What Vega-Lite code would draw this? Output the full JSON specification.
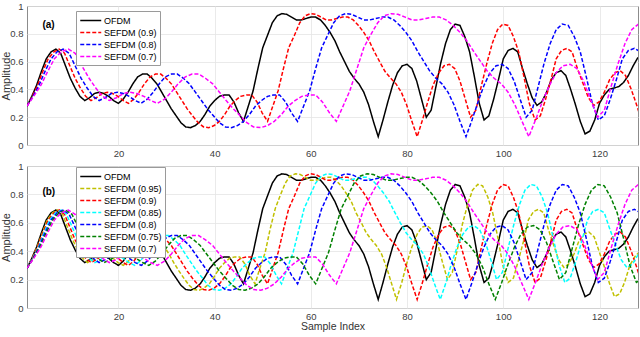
{
"$schema":"https://vega.github.io/schema/vega-lite/v6.json",
"padding":{"left":0,"top":0,"right":3,"bottom":0},
"background":"white",
"config":{
 "font":"Liberation Sans",
 "view":{"stroke":"#8c8c8c","strokeWidth":1},
 "axis":{"grid":true,"gridColor":"#e4e4e4","gridWidth":0.8,"domain":false,"ticks":false,"labelOverlap":false,"labelColor":"#404040","labelFontSize":9.5,"labelPadding":4,"titleFontSize":11,"titleFontWeight":"normal","titleColor":"#333333"},
 "axisX":{"labelPadding":3},
 "legend":{"title":null,"orient":"none","symbolType":"M-1,0H3","symbolSize":110,"symbolStrokeWidth":1.6,"labelFontSize":9,"labelColor":"#000000","labelOffset":12,"fillColor":"white","strokeColor":"#9a9a9a","padding":3,"rowPadding":0}
},
"data":{"values":[
{"s":"O","x":1,"y":0.28},{"s":"O","x":2,"y":0.35},{"s":"O","x":3,"y":0.43},{"s":"O","x":4,"y":0.53},{"s":"O","x":5,"y":0.62},{"s":"O","x":6,"y":0.67},{"s":"O","x":7,"y":0.69},{"s":"O","x":8,"y":0.66},{"s":"O","x":9,"y":0.57},{"s":"O","x":10,"y":0.48},
{"s":"O","x":11,"y":0.41},{"s":"O","x":12,"y":0.35},{"s":"O","x":13,"y":0.32},{"s":"O","x":14,"y":0.34},{"s":"O","x":15,"y":0.37},{"s":"O","x":16,"y":0.38},{"s":"O","x":17,"y":0.37},{"s":"O","x":18,"y":0.35},{"s":"O","x":19,"y":0.32},{"s":"O","x":20,"y":0.3},
{"s":"O","x":21,"y":0.33},{"s":"O","x":22,"y":0.38},{"s":"O","x":23,"y":0.44},{"s":"O","x":24,"y":0.49},{"s":"O","x":25,"y":0.51},{"s":"O","x":26,"y":0.51},{"s":"O","x":27,"y":0.48},{"s":"O","x":28,"y":0.44},{"s":"O","x":29,"y":0.38},{"s":"O","x":30,"y":0.32},
{"s":"O","x":31,"y":0.26},{"s":"O","x":32,"y":0.21},{"s":"O","x":33,"y":0.16},{"s":"O","x":34,"y":0.13},{"s":"O","x":35,"y":0.125},{"s":"O","x":36,"y":0.14},{"s":"O","x":37,"y":0.17},{"s":"O","x":38,"y":0.22},{"s":"O","x":39,"y":0.28},{"s":"O","x":40,"y":0.32},
{"s":"O","x":41,"y":0.35},{"s":"O","x":42,"y":0.36},{"s":"O","x":43,"y":0.36},{"s":"O","x":44,"y":0.31},{"s":"O","x":45,"y":0.23},{"s":"O","x":46,"y":0.17},{"s":"O","x":47,"y":0.28},{"s":"O","x":48,"y":0.39},{"s":"O","x":49,"y":0.55},{"s":"O","x":50,"y":0.7},
{"s":"O","x":51,"y":0.79},{"s":"O","x":52,"y":0.88},{"s":"O","x":53,"y":0.93},{"s":"O","x":54,"y":0.945},{"s":"O","x":55,"y":0.94},{"s":"O","x":56,"y":0.92},{"s":"O","x":57,"y":0.9},{"s":"O","x":58,"y":0.9},{"s":"O","x":59,"y":0.91},{"s":"O","x":60,"y":0.92},
{"s":"O","x":61,"y":0.92},{"s":"O","x":62,"y":0.9},{"s":"O","x":63,"y":0.86},{"s":"O","x":64,"y":0.81},{"s":"O","x":65,"y":0.75},{"s":"O","x":66,"y":0.67},{"s":"O","x":67,"y":0.6},{"s":"O","x":68,"y":0.53},{"s":"O","x":69,"y":0.48},{"s":"O","x":70,"y":0.44},
{"s":"O","x":71,"y":0.38},{"s":"O","x":72,"y":0.29},{"s":"O","x":73,"y":0.17},{"s":"O","x":74,"y":0.06},{"s":"O","x":75,"y":0.18},{"s":"O","x":76,"y":0.31},{"s":"O","x":77,"y":0.43},{"s":"O","x":78,"y":0.52},{"s":"O","x":79,"y":0.57},{"s":"O","x":80,"y":0.58},
{"s":"O","x":81,"y":0.55},{"s":"O","x":82,"y":0.46},{"s":"O","x":83,"y":0.33},{"s":"O","x":84,"y":0.2},{"s":"O","x":85,"y":0.25},{"s":"O","x":86,"y":0.42},{"s":"O","x":87,"y":0.59},{"s":"O","x":88,"y":0.73},{"s":"O","x":89,"y":0.83},{"s":"O","x":90,"y":0.87},
{"s":"O","x":91,"y":0.86},{"s":"O","x":92,"y":0.78},{"s":"O","x":93,"y":0.67},{"s":"O","x":94,"y":0.49},{"s":"O","x":95,"y":0.3},{"s":"O","x":96,"y":0.18},{"s":"O","x":97,"y":0.21},{"s":"O","x":98,"y":0.33},{"s":"O","x":99,"y":0.47},{"s":"O","x":100,"y":0.62},
{"s":"O","x":101,"y":0.68},{"s":"O","x":102,"y":0.695},{"s":"O","x":103,"y":0.67},{"s":"O","x":104,"y":0.55},{"s":"O","x":105,"y":0.44},{"s":"O","x":106,"y":0.34},{"s":"O","x":107,"y":0.285},{"s":"O","x":108,"y":0.31},{"s":"O","x":109,"y":0.38},{"s":"O","x":110,"y":0.47},
{"s":"O","x":111,"y":0.52},{"s":"O","x":112,"y":0.535},{"s":"O","x":113,"y":0.5},{"s":"O","x":114,"y":0.4},{"s":"O","x":115,"y":0.29},{"s":"O","x":116,"y":0.17},{"s":"O","x":117,"y":0.08},{"s":"O","x":118,"y":0.1},{"s":"O","x":119,"y":0.18},{"s":"O","x":120,"y":0.3},
{"s":"O","x":121,"y":0.36},{"s":"O","x":122,"y":0.4},{"s":"O","x":123,"y":0.41},{"s":"O","x":124,"y":0.42},{"s":"O","x":125,"y":0.45},{"s":"O","x":126,"y":0.5},{"s":"O","x":127,"y":0.57},{"s":"O","x":128,"y":0.63},

{"s":"95","x":1,"y":0.28},{"s":"95","x":2.1,"y":0.35},{"s":"95","x":3.1,"y":0.43},{"s":"95","x":4.2,"y":0.53},{"s":"95","x":5.2,"y":0.62},{"s":"95","x":6.3,"y":0.67},{"s":"95","x":7.3,"y":0.69},{"s":"95","x":8.4,"y":0.66},{"s":"95","x":9.4,"y":0.57},{"s":"95","x":10.5,"y":0.48},
{"s":"95","x":11.5,"y":0.41},{"s":"95","x":12.6,"y":0.35},{"s":"95","x":13.6,"y":0.32},{"s":"95","x":14.7,"y":0.34},{"s":"95","x":15.7,"y":0.37},{"s":"95","x":16.8,"y":0.38},{"s":"95","x":17.8,"y":0.37},{"s":"95","x":18.9,"y":0.35},{"s":"95","x":19.9,"y":0.32},{"s":"95","x":21,"y":0.3},
{"s":"95","x":22.1,"y":0.33},{"s":"95","x":23.1,"y":0.38},{"s":"95","x":24.2,"y":0.44},{"s":"95","x":25.2,"y":0.49},{"s":"95","x":26.3,"y":0.51},{"s":"95","x":27.3,"y":0.51},{"s":"95","x":28.4,"y":0.48},{"s":"95","x":29.4,"y":0.44},{"s":"95","x":30.5,"y":0.38},{"s":"95","x":31.5,"y":0.32},
{"s":"95","x":32.6,"y":0.26},{"s":"95","x":33.6,"y":0.21},{"s":"95","x":34.7,"y":0.16},{"s":"95","x":35.7,"y":0.13},{"s":"95","x":36.8,"y":0.125},{"s":"95","x":37.8,"y":0.14},{"s":"95","x":38.9,"y":0.17},{"s":"95","x":39.9,"y":0.22},{"s":"95","x":41,"y":0.28},{"s":"95","x":42.1,"y":0.32},
{"s":"95","x":43.1,"y":0.35},{"s":"95","x":44.2,"y":0.36},{"s":"95","x":45.2,"y":0.36},{"s":"95","x":46.3,"y":0.31},{"s":"95","x":47.3,"y":0.23},{"s":"95","x":48.4,"y":0.17},{"s":"95","x":49.4,"y":0.28},{"s":"95","x":50.5,"y":0.39},{"s":"95","x":51.5,"y":0.55},{"s":"95","x":52.6,"y":0.7},
{"s":"95","x":53.6,"y":0.79},{"s":"95","x":54.7,"y":0.88},{"s":"95","x":55.7,"y":0.93},{"s":"95","x":56.8,"y":0.945},{"s":"95","x":57.8,"y":0.94},{"s":"95","x":58.9,"y":0.92},{"s":"95","x":59.9,"y":0.9},{"s":"95","x":61,"y":0.9},{"s":"95","x":62.1,"y":0.91},{"s":"95","x":63.1,"y":0.92},
{"s":"95","x":64.2,"y":0.92},{"s":"95","x":65.2,"y":0.9},{"s":"95","x":66.3,"y":0.86},{"s":"95","x":67.3,"y":0.81},{"s":"95","x":68.4,"y":0.75},{"s":"95","x":69.4,"y":0.67},{"s":"95","x":70.5,"y":0.6},{"s":"95","x":71.5,"y":0.53},{"s":"95","x":72.6,"y":0.48},{"s":"95","x":73.6,"y":0.44},
{"s":"95","x":74.7,"y":0.38},{"s":"95","x":75.7,"y":0.29},{"s":"95","x":76.8,"y":0.17},{"s":"95","x":77.8,"y":0.06},{"s":"95","x":78.9,"y":0.18},{"s":"95","x":79.9,"y":0.31},{"s":"95","x":81,"y":0.43},{"s":"95","x":82.1,"y":0.52},{"s":"95","x":83.1,"y":0.57},{"s":"95","x":84.2,"y":0.58},
{"s":"95","x":85.2,"y":0.55},{"s":"95","x":86.3,"y":0.46},{"s":"95","x":87.3,"y":0.33},{"s":"95","x":88.4,"y":0.2},{"s":"95","x":89.4,"y":0.25},{"s":"95","x":90.5,"y":0.42},{"s":"95","x":91.5,"y":0.59},{"s":"95","x":92.6,"y":0.73},{"s":"95","x":93.6,"y":0.83},{"s":"95","x":94.7,"y":0.87},
{"s":"95","x":95.7,"y":0.86},{"s":"95","x":96.8,"y":0.78},{"s":"95","x":97.8,"y":0.67},{"s":"95","x":98.9,"y":0.49},{"s":"95","x":99.9,"y":0.3},{"s":"95","x":101,"y":0.18},{"s":"95","x":102.1,"y":0.21},{"s":"95","x":103.1,"y":0.33},{"s":"95","x":104.2,"y":0.47},{"s":"95","x":105.2,"y":0.62},
{"s":"95","x":106.3,"y":0.68},{"s":"95","x":107.3,"y":0.695},{"s":"95","x":108.4,"y":0.67},{"s":"95","x":109.4,"y":0.55},{"s":"95","x":110.5,"y":0.44},{"s":"95","x":111.5,"y":0.34},{"s":"95","x":112.6,"y":0.285},{"s":"95","x":113.6,"y":0.31},{"s":"95","x":114.7,"y":0.38},{"s":"95","x":115.7,"y":0.47},
{"s":"95","x":116.8,"y":0.52},{"s":"95","x":117.8,"y":0.535},{"s":"95","x":118.9,"y":0.5},{"s":"95","x":119.9,"y":0.4},{"s":"95","x":121,"y":0.29},{"s":"95","x":122.1,"y":0.17},{"s":"95","x":123.1,"y":0.08},{"s":"95","x":124.2,"y":0.1},{"s":"95","x":125.2,"y":0.18},{"s":"95","x":126.3,"y":0.3},
{"s":"95","x":127.3,"y":0.36},{"s":"95","x":128.4,"y":0.4},

{"s":"9","x":1,"y":0.28},{"s":"9","x":2.1,"y":0.35},{"s":"9","x":3.2,"y":0.43},{"s":"9","x":4.3,"y":0.53},{"s":"9","x":5.4,"y":0.62},{"s":"9","x":6.6,"y":0.67},{"s":"9","x":7.7,"y":0.69},{"s":"9","x":8.8,"y":0.66},{"s":"9","x":9.9,"y":0.57},
{"s":"9","x":11,"y":0.48},{"s":"9","x":12.1,"y":0.41},{"s":"9","x":13.2,"y":0.35},{"s":"9","x":14.3,"y":0.32},{"s":"9","x":15.4,"y":0.34},{"s":"9","x":16.6,"y":0.37},{"s":"9","x":17.7,"y":0.38},{"s":"9","x":18.8,"y":0.37},{"s":"9","x":19.9,"y":0.35},
{"s":"9","x":21,"y":0.32},{"s":"9","x":22.1,"y":0.3},{"s":"9","x":23.2,"y":0.33},{"s":"9","x":24.3,"y":0.38},{"s":"9","x":25.4,"y":0.44},{"s":"9","x":26.6,"y":0.49},{"s":"9","x":27.7,"y":0.51},{"s":"9","x":28.8,"y":0.51},{"s":"9","x":29.9,"y":0.48},
{"s":"9","x":31,"y":0.44},{"s":"9","x":32.1,"y":0.38},{"s":"9","x":33.2,"y":0.32},{"s":"9","x":34.3,"y":0.26},{"s":"9","x":35.4,"y":0.21},{"s":"9","x":36.6,"y":0.16},{"s":"9","x":37.7,"y":0.13},{"s":"9","x":38.8,"y":0.125},{"s":"9","x":39.9,"y":0.14},
{"s":"9","x":41,"y":0.17},{"s":"9","x":42.1,"y":0.22},{"s":"9","x":43.2,"y":0.28},{"s":"9","x":44.3,"y":0.32},{"s":"9","x":45.4,"y":0.35},{"s":"9","x":46.6,"y":0.36},{"s":"9","x":47.7,"y":0.36},{"s":"9","x":48.8,"y":0.31},{"s":"9","x":49.9,"y":0.23},
{"s":"9","x":51,"y":0.17},{"s":"9","x":52.1,"y":0.28},{"s":"9","x":53.2,"y":0.39},{"s":"9","x":54.3,"y":0.55},{"s":"9","x":55.4,"y":0.7},{"s":"9","x":56.6,"y":0.79},{"s":"9","x":57.7,"y":0.88},{"s":"9","x":58.8,"y":0.93},{"s":"9","x":59.9,"y":0.945},
{"s":"9","x":61,"y":0.94},{"s":"9","x":62.1,"y":0.92},{"s":"9","x":63.2,"y":0.9},{"s":"9","x":64.3,"y":0.9},{"s":"9","x":65.4,"y":0.91},{"s":"9","x":66.6,"y":0.92},{"s":"9","x":67.7,"y":0.92},{"s":"9","x":68.8,"y":0.9},{"s":"9","x":69.9,"y":0.86},
{"s":"9","x":71,"y":0.81},{"s":"9","x":72.1,"y":0.75},{"s":"9","x":73.2,"y":0.67},{"s":"9","x":74.3,"y":0.6},{"s":"9","x":75.4,"y":0.53},{"s":"9","x":76.6,"y":0.48},{"s":"9","x":77.7,"y":0.44},{"s":"9","x":78.8,"y":0.38},{"s":"9","x":79.9,"y":0.29},
{"s":"9","x":81,"y":0.17},{"s":"9","x":82.1,"y":0.06},{"s":"9","x":83.2,"y":0.18},{"s":"9","x":84.3,"y":0.31},{"s":"9","x":85.4,"y":0.43},{"s":"9","x":86.6,"y":0.52},{"s":"9","x":87.7,"y":0.57},{"s":"9","x":88.8,"y":0.58},{"s":"9","x":89.9,"y":0.55},
{"s":"9","x":91,"y":0.46},{"s":"9","x":92.1,"y":0.33},{"s":"9","x":93.2,"y":0.2},{"s":"9","x":94.3,"y":0.25},{"s":"9","x":95.4,"y":0.42},{"s":"9","x":96.6,"y":0.59},{"s":"9","x":97.7,"y":0.73},{"s":"9","x":98.8,"y":0.83},{"s":"9","x":99.9,"y":0.87},
{"s":"9","x":101,"y":0.86},{"s":"9","x":102.1,"y":0.78},{"s":"9","x":103.2,"y":0.67},{"s":"9","x":104.3,"y":0.49},{"s":"9","x":105.4,"y":0.3},{"s":"9","x":106.6,"y":0.18},{"s":"9","x":107.7,"y":0.21},{"s":"9","x":108.8,"y":0.33},{"s":"9","x":109.9,"y":0.47},
{"s":"9","x":111,"y":0.62},{"s":"9","x":112.1,"y":0.68},{"s":"9","x":113.2,"y":0.695},{"s":"9","x":114.3,"y":0.67},{"s":"9","x":115.4,"y":0.55},{"s":"9","x":116.6,"y":0.44},{"s":"9","x":117.7,"y":0.34},{"s":"9","x":118.8,"y":0.285},{"s":"9","x":119.9,"y":0.31},
{"s":"9","x":121,"y":0.38},{"s":"9","x":122.1,"y":0.47},{"s":"9","x":123.2,"y":0.52},{"s":"9","x":124.3,"y":0.535},{"s":"9","x":125.4,"y":0.5},{"s":"9","x":126.6,"y":0.4},{"s":"9","x":127.7,"y":0.29},{"s":"9","x":128.8,"y":0.17},

{"s":"85","x":1,"y":0.28},{"s":"85","x":2.2,"y":0.35},{"s":"85","x":3.4,"y":0.43},{"s":"85","x":4.5,"y":0.53},{"s":"85","x":5.7,"y":0.62},{"s":"85","x":6.9,"y":0.67},{"s":"85","x":8.1,"y":0.69},{"s":"85","x":9.2,"y":0.66},{"s":"85","x":10.4,"y":0.57},{"s":"85","x":11.6,"y":0.48},
{"s":"85","x":12.8,"y":0.41},{"s":"85","x":13.9,"y":0.35},{"s":"85","x":15.1,"y":0.32},{"s":"85","x":16.3,"y":0.34},{"s":"85","x":17.5,"y":0.37},{"s":"85","x":18.6,"y":0.38},{"s":"85","x":19.8,"y":0.37},{"s":"85","x":21,"y":0.35},{"s":"85","x":22.2,"y":0.32},{"s":"85","x":23.4,"y":0.3},
{"s":"85","x":24.5,"y":0.33},{"s":"85","x":25.7,"y":0.38},{"s":"85","x":26.9,"y":0.44},{"s":"85","x":28.1,"y":0.49},{"s":"85","x":29.2,"y":0.51},{"s":"85","x":30.4,"y":0.51},{"s":"85","x":31.6,"y":0.48},{"s":"85","x":32.8,"y":0.44},{"s":"85","x":33.9,"y":0.38},{"s":"85","x":35.1,"y":0.32},
{"s":"85","x":36.3,"y":0.26},{"s":"85","x":37.5,"y":0.21},{"s":"85","x":38.6,"y":0.16},{"s":"85","x":39.8,"y":0.13},{"s":"85","x":41,"y":0.125},{"s":"85","x":42.2,"y":0.14},{"s":"85","x":43.4,"y":0.17},{"s":"85","x":44.5,"y":0.22},{"s":"85","x":45.7,"y":0.28},{"s":"85","x":46.9,"y":0.32},
{"s":"85","x":48.1,"y":0.35},{"s":"85","x":49.2,"y":0.36},{"s":"85","x":50.4,"y":0.36},{"s":"85","x":51.6,"y":0.31},{"s":"85","x":52.8,"y":0.23},{"s":"85","x":53.9,"y":0.17},{"s":"85","x":55.1,"y":0.28},{"s":"85","x":56.3,"y":0.39},{"s":"85","x":57.5,"y":0.55},{"s":"85","x":58.6,"y":0.7},
{"s":"85","x":59.8,"y":0.79},{"s":"85","x":61,"y":0.88},{"s":"85","x":62.2,"y":0.93},{"s":"85","x":63.4,"y":0.945},{"s":"85","x":64.5,"y":0.94},{"s":"85","x":65.7,"y":0.92},{"s":"85","x":66.9,"y":0.9},{"s":"85","x":68.1,"y":0.9},{"s":"85","x":69.2,"y":0.91},{"s":"85","x":70.4,"y":0.92},
{"s":"85","x":71.6,"y":0.92},{"s":"85","x":72.8,"y":0.9},{"s":"85","x":73.9,"y":0.86},{"s":"85","x":75.1,"y":0.81},{"s":"85","x":76.3,"y":0.75},{"s":"85","x":77.5,"y":0.67},{"s":"85","x":78.6,"y":0.6},{"s":"85","x":79.8,"y":0.53},{"s":"85","x":81,"y":0.48},{"s":"85","x":82.2,"y":0.44},
{"s":"85","x":83.4,"y":0.38},{"s":"85","x":84.5,"y":0.29},{"s":"85","x":85.7,"y":0.17},{"s":"85","x":86.9,"y":0.06},{"s":"85","x":88.1,"y":0.18},{"s":"85","x":89.2,"y":0.31},{"s":"85","x":90.4,"y":0.43},{"s":"85","x":91.6,"y":0.52},{"s":"85","x":92.8,"y":0.57},{"s":"85","x":93.9,"y":0.58},
{"s":"85","x":95.1,"y":0.55},{"s":"85","x":96.3,"y":0.46},{"s":"85","x":97.5,"y":0.33},{"s":"85","x":98.6,"y":0.2},{"s":"85","x":99.8,"y":0.25},{"s":"85","x":101,"y":0.42},{"s":"85","x":102.2,"y":0.59},{"s":"85","x":103.4,"y":0.73},{"s":"85","x":104.5,"y":0.83},{"s":"85","x":105.7,"y":0.87},
{"s":"85","x":106.9,"y":0.86},{"s":"85","x":108.1,"y":0.78},{"s":"85","x":109.2,"y":0.67},{"s":"85","x":110.4,"y":0.49},{"s":"85","x":111.6,"y":0.3},{"s":"85","x":112.8,"y":0.18},{"s":"85","x":113.9,"y":0.21},{"s":"85","x":115.1,"y":0.33},{"s":"85","x":116.3,"y":0.47},{"s":"85","x":117.5,"y":0.62},
{"s":"85","x":118.6,"y":0.68},{"s":"85","x":119.8,"y":0.695},{"s":"85","x":121,"y":0.67},{"s":"85","x":122.2,"y":0.55},{"s":"85","x":123.4,"y":0.44},{"s":"85","x":124.5,"y":0.34},{"s":"85","x":125.7,"y":0.285},{"s":"85","x":126.9,"y":0.31},{"s":"85","x":128.1,"y":0.38},

{"s":"8","x":1,"y":0.28},{"s":"8","x":2.25,"y":0.35},{"s":"8","x":3.5,"y":0.43},{"s":"8","x":4.75,"y":0.53},{"s":"8","x":6,"y":0.62},{"s":"8","x":7.25,"y":0.67},{"s":"8","x":8.5,"y":0.69},{"s":"8","x":9.75,"y":0.66},{"s":"8","x":11,"y":0.57},{"s":"8","x":12.25,"y":0.48},
{"s":"8","x":13.5,"y":0.41},{"s":"8","x":14.75,"y":0.35},{"s":"8","x":16,"y":0.32},{"s":"8","x":17.25,"y":0.34},{"s":"8","x":18.5,"y":0.37},{"s":"8","x":19.75,"y":0.38},{"s":"8","x":21,"y":0.37},{"s":"8","x":22.25,"y":0.35},{"s":"8","x":23.5,"y":0.32},{"s":"8","x":24.75,"y":0.3},
{"s":"8","x":26,"y":0.33},{"s":"8","x":27.25,"y":0.38},{"s":"8","x":28.5,"y":0.44},{"s":"8","x":29.75,"y":0.49},{"s":"8","x":31,"y":0.51},{"s":"8","x":32.25,"y":0.51},{"s":"8","x":33.5,"y":0.48},{"s":"8","x":34.75,"y":0.44},{"s":"8","x":36,"y":0.38},{"s":"8","x":37.25,"y":0.32},
{"s":"8","x":38.5,"y":0.26},{"s":"8","x":39.75,"y":0.21},{"s":"8","x":41,"y":0.16},{"s":"8","x":42.25,"y":0.13},{"s":"8","x":43.5,"y":0.125},{"s":"8","x":44.75,"y":0.14},{"s":"8","x":46,"y":0.17},{"s":"8","x":47.25,"y":0.22},{"s":"8","x":48.5,"y":0.28},{"s":"8","x":49.75,"y":0.32},
{"s":"8","x":51,"y":0.35},{"s":"8","x":52.25,"y":0.36},{"s":"8","x":53.5,"y":0.36},{"s":"8","x":54.75,"y":0.31},{"s":"8","x":56,"y":0.23},{"s":"8","x":57.25,"y":0.17},{"s":"8","x":58.5,"y":0.28},{"s":"8","x":59.75,"y":0.39},{"s":"8","x":61,"y":0.55},{"s":"8","x":62.25,"y":0.7},
{"s":"8","x":63.5,"y":0.79},{"s":"8","x":64.75,"y":0.88},{"s":"8","x":66,"y":0.93},{"s":"8","x":67.25,"y":0.945},{"s":"8","x":68.5,"y":0.94},{"s":"8","x":69.75,"y":0.92},{"s":"8","x":71,"y":0.9},{"s":"8","x":72.25,"y":0.9},{"s":"8","x":73.5,"y":0.91},{"s":"8","x":74.75,"y":0.92},
{"s":"8","x":76,"y":0.92},{"s":"8","x":77.25,"y":0.9},{"s":"8","x":78.5,"y":0.86},{"s":"8","x":79.75,"y":0.81},{"s":"8","x":81,"y":0.75},{"s":"8","x":82.25,"y":0.67},{"s":"8","x":83.5,"y":0.6},{"s":"8","x":84.75,"y":0.53},{"s":"8","x":86,"y":0.48},{"s":"8","x":87.25,"y":0.44},
{"s":"8","x":88.5,"y":0.38},{"s":"8","x":89.75,"y":0.29},{"s":"8","x":91,"y":0.17},{"s":"8","x":92.25,"y":0.06},{"s":"8","x":93.5,"y":0.18},{"s":"8","x":94.75,"y":0.31},{"s":"8","x":96,"y":0.43},{"s":"8","x":97.25,"y":0.52},{"s":"8","x":98.5,"y":0.57},{"s":"8","x":99.75,"y":0.58},
{"s":"8","x":101,"y":0.55},{"s":"8","x":102.25,"y":0.46},{"s":"8","x":103.5,"y":0.33},{"s":"8","x":104.75,"y":0.2},{"s":"8","x":106,"y":0.25},{"s":"8","x":107.25,"y":0.42},{"s":"8","x":108.5,"y":0.59},{"s":"8","x":109.75,"y":0.73},{"s":"8","x":111,"y":0.83},{"s":"8","x":112.25,"y":0.87},
{"s":"8","x":113.5,"y":0.86},{"s":"8","x":114.75,"y":0.78},{"s":"8","x":116,"y":0.67},{"s":"8","x":117.25,"y":0.49},{"s":"8","x":118.5,"y":0.3},{"s":"8","x":119.75,"y":0.18},{"s":"8","x":121,"y":0.21},{"s":"8","x":122.25,"y":0.33},{"s":"8","x":123.5,"y":0.47},{"s":"8","x":124.75,"y":0.62},
{"s":"8","x":126,"y":0.68},{"s":"8","x":127.25,"y":0.695},{"s":"8","x":128.5,"y":0.67},

{"s":"75","x":1,"y":0.28},{"s":"75","x":2.33,"y":0.35},{"s":"75","x":3.67,"y":0.43},{"s":"75","x":5,"y":0.53},{"s":"75","x":6.33,"y":0.62},{"s":"75","x":7.67,"y":0.67},{"s":"75","x":9,"y":0.69},{"s":"75","x":10.33,"y":0.66},{"s":"75","x":11.67,"y":0.57},{"s":"75","x":13,"y":0.48},
{"s":"75","x":14.33,"y":0.41},{"s":"75","x":15.67,"y":0.35},{"s":"75","x":17,"y":0.32},{"s":"75","x":18.33,"y":0.34},{"s":"75","x":19.67,"y":0.37},{"s":"75","x":21,"y":0.38},{"s":"75","x":22.33,"y":0.37},{"s":"75","x":23.67,"y":0.35},{"s":"75","x":25,"y":0.32},{"s":"75","x":26.33,"y":0.3},
{"s":"75","x":27.67,"y":0.33},{"s":"75","x":29,"y":0.38},{"s":"75","x":30.33,"y":0.44},{"s":"75","x":31.67,"y":0.49},{"s":"75","x":33,"y":0.51},{"s":"75","x":34.33,"y":0.51},{"s":"75","x":35.67,"y":0.48},{"s":"75","x":37,"y":0.44},{"s":"75","x":38.33,"y":0.38},{"s":"75","x":39.67,"y":0.32},
{"s":"75","x":41,"y":0.26},{"s":"75","x":42.33,"y":0.21},{"s":"75","x":43.67,"y":0.16},{"s":"75","x":45,"y":0.13},{"s":"75","x":46.33,"y":0.125},{"s":"75","x":47.67,"y":0.14},{"s":"75","x":49,"y":0.17},{"s":"75","x":50.33,"y":0.22},{"s":"75","x":51.67,"y":0.28},{"s":"75","x":53,"y":0.32},
{"s":"75","x":54.33,"y":0.35},{"s":"75","x":55.67,"y":0.36},{"s":"75","x":57,"y":0.36},{"s":"75","x":58.33,"y":0.31},{"s":"75","x":59.67,"y":0.23},{"s":"75","x":61,"y":0.17},{"s":"75","x":62.33,"y":0.28},{"s":"75","x":63.67,"y":0.39},{"s":"75","x":65,"y":0.55},{"s":"75","x":66.33,"y":0.7},
{"s":"75","x":67.67,"y":0.79},{"s":"75","x":69,"y":0.88},{"s":"75","x":70.33,"y":0.93},{"s":"75","x":71.67,"y":0.945},{"s":"75","x":73,"y":0.94},{"s":"75","x":74.33,"y":0.92},{"s":"75","x":75.67,"y":0.9},{"s":"75","x":77,"y":0.9},{"s":"75","x":78.33,"y":0.91},{"s":"75","x":79.67,"y":0.92},
{"s":"75","x":81,"y":0.92},{"s":"75","x":82.33,"y":0.9},{"s":"75","x":83.67,"y":0.86},{"s":"75","x":85,"y":0.81},{"s":"75","x":86.33,"y":0.75},{"s":"75","x":87.67,"y":0.67},{"s":"75","x":89,"y":0.6},{"s":"75","x":90.33,"y":0.53},{"s":"75","x":91.67,"y":0.48},{"s":"75","x":93,"y":0.44},
{"s":"75","x":94.33,"y":0.38},{"s":"75","x":95.67,"y":0.29},{"s":"75","x":97,"y":0.17},{"s":"75","x":98.33,"y":0.06},{"s":"75","x":99.67,"y":0.18},{"s":"75","x":101,"y":0.31},{"s":"75","x":102.33,"y":0.43},{"s":"75","x":103.67,"y":0.52},{"s":"75","x":105,"y":0.57},{"s":"75","x":106.33,"y":0.58},
{"s":"75","x":107.67,"y":0.55},{"s":"75","x":109,"y":0.46},{"s":"75","x":110.33,"y":0.33},{"s":"75","x":111.67,"y":0.2},{"s":"75","x":113,"y":0.25},{"s":"75","x":114.33,"y":0.42},{"s":"75","x":115.67,"y":0.59},{"s":"75","x":117,"y":0.73},{"s":"75","x":118.33,"y":0.83},{"s":"75","x":119.67,"y":0.87},
{"s":"75","x":121,"y":0.86},{"s":"75","x":122.33,"y":0.78},{"s":"75","x":123.67,"y":0.67},{"s":"75","x":125,"y":0.49},{"s":"75","x":126.33,"y":0.3},{"s":"75","x":127.67,"y":0.18},{"s":"75","x":129,"y":0.21},

{"s":"7","x":1,"y":0.28},{"s":"7","x":2.4,"y":0.35},{"s":"7","x":3.9,"y":0.43},{"s":"7","x":5.3,"y":0.53},{"s":"7","x":6.7,"y":0.62},{"s":"7","x":8.1,"y":0.67},{"s":"7","x":9.6,"y":0.69},{"s":"7","x":11,"y":0.66},{"s":"7","x":12.4,"y":0.57},{"s":"7","x":13.9,"y":0.48},
{"s":"7","x":15.3,"y":0.41},{"s":"7","x":16.7,"y":0.35},{"s":"7","x":18.1,"y":0.32},{"s":"7","x":19.6,"y":0.34},{"s":"7","x":21,"y":0.37},{"s":"7","x":22.4,"y":0.38},{"s":"7","x":23.9,"y":0.37},{"s":"7","x":25.3,"y":0.35},{"s":"7","x":26.7,"y":0.32},{"s":"7","x":28.1,"y":0.3},
{"s":"7","x":29.6,"y":0.33},{"s":"7","x":31,"y":0.38},{"s":"7","x":32.4,"y":0.44},{"s":"7","x":33.9,"y":0.49},{"s":"7","x":35.3,"y":0.51},{"s":"7","x":36.7,"y":0.51},{"s":"7","x":38.1,"y":0.48},{"s":"7","x":39.6,"y":0.44},{"s":"7","x":41,"y":0.38},{"s":"7","x":42.4,"y":0.32},
{"s":"7","x":43.9,"y":0.26},{"s":"7","x":45.3,"y":0.21},{"s":"7","x":46.7,"y":0.16},{"s":"7","x":48.1,"y":0.13},{"s":"7","x":49.6,"y":0.125},{"s":"7","x":51,"y":0.14},{"s":"7","x":52.4,"y":0.17},{"s":"7","x":53.9,"y":0.22},{"s":"7","x":55.3,"y":0.28},{"s":"7","x":56.7,"y":0.32},
{"s":"7","x":58.1,"y":0.35},{"s":"7","x":59.6,"y":0.36},{"s":"7","x":61,"y":0.36},{"s":"7","x":62.4,"y":0.31},{"s":"7","x":63.9,"y":0.23},{"s":"7","x":65.3,"y":0.17},{"s":"7","x":66.7,"y":0.28},{"s":"7","x":68.1,"y":0.39},{"s":"7","x":69.6,"y":0.55},{"s":"7","x":71,"y":0.7},
{"s":"7","x":72.4,"y":0.79},{"s":"7","x":73.9,"y":0.88},{"s":"7","x":75.3,"y":0.93},{"s":"7","x":76.7,"y":0.945},{"s":"7","x":78.1,"y":0.94},{"s":"7","x":79.6,"y":0.92},{"s":"7","x":81,"y":0.9},{"s":"7","x":82.4,"y":0.9},{"s":"7","x":83.9,"y":0.91},{"s":"7","x":85.3,"y":0.92},
{"s":"7","x":86.7,"y":0.92},{"s":"7","x":88.1,"y":0.9},{"s":"7","x":89.6,"y":0.86},{"s":"7","x":91,"y":0.81},{"s":"7","x":92.4,"y":0.75},{"s":"7","x":93.9,"y":0.67},{"s":"7","x":95.3,"y":0.6},{"s":"7","x":96.7,"y":0.53},{"s":"7","x":98.1,"y":0.48},{"s":"7","x":99.6,"y":0.44},
{"s":"7","x":101,"y":0.38},{"s":"7","x":102.4,"y":0.29},{"s":"7","x":103.9,"y":0.17},{"s":"7","x":105.3,"y":0.06},{"s":"7","x":106.7,"y":0.18},{"s":"7","x":108.1,"y":0.31},{"s":"7","x":109.6,"y":0.43},{"s":"7","x":111,"y":0.52},{"s":"7","x":112.4,"y":0.57},{"s":"7","x":113.9,"y":0.58},
{"s":"7","x":115.3,"y":0.55},{"s":"7","x":116.7,"y":0.46},{"s":"7","x":118.1,"y":0.33},{"s":"7","x":119.6,"y":0.2},{"s":"7","x":121,"y":0.25},{"s":"7","x":122.4,"y":0.42},{"s":"7","x":123.9,"y":0.59},{"s":"7","x":125.3,"y":0.73},{"s":"7","x":126.7,"y":0.83},{"s":"7","x":128.1,"y":0.87}
]},
"spacing":21,
"bounds":"flush",
"vconcat":[
{
 "width":611,"height":139,
 "layer":[
  {"transform":[{"filter":{"field":"s","oneOf":["O","9","8","7"]}}],
   "mark":{"type":"line","strokeWidth":1.5,"clip":true},
   "encoding":{
    "x":{"field":"x","type":"quantitative","scale":{"domain":[1,128],"nice":false,"zero":false},"axis":{"values":[20,40,60,80,100,120],"title":null,"labelOverlap":false}},
    "y":{"field":"y","type":"quantitative","scale":{"domain":[0,1],"nice":false},"axis":{"tickCount":5,"labelExpr":"datum.value==0?'0':datum.value==1?'1':format(datum.value,'.1f')","title":"Amplitude","titlePadding":-2,"labelOverlap":false}},
    "color":{"field":"s","type":"nominal","scale":{"domain":["O","9","8","7"],"range":["#000000","#ff0000","#0000ff","#ff00ff"]},
      "legend":{"legendX":49,"legendY":5,"labelExpr":"datum.label=='O'?'OFDM':'SEFDM (0.'+datum.label+')'"}},
    "strokeDash":{"field":"s","type":"nominal","scale":{"domain":["O","9","8","7"],"range":[[1,0],[4,2],[4,2],[4,2]]},
      "legend":{"legendX":49,"legendY":5,"labelExpr":"datum.label=='O'?'OFDM':'SEFDM (0.'+datum.label+')'"}}
   }},
  {"data":{"values":[{"t":"(a)","x":4.2,"y":0.86}]},
   "mark":{"type":"text","fontWeight":"bold","fontSize":10,"align":"left","baseline":"middle"},
   "encoding":{"x":{"field":"x","type":"quantitative"},"y":{"field":"y","type":"quantitative"},"text":{"field":"t"}}}
 ]
},
{
 "width":611,"height":142,
 "layer":[
  {"mark":{"type":"line","strokeWidth":1.5,"clip":true},
   "encoding":{
    "x":{"field":"x","type":"quantitative","scale":{"domain":[1,128],"nice":false,"zero":false},"axis":{"values":[20,40,60,80,100,120],"title":"Sample Index","titlePadding":1,"titleFontSize":10.5,"labelOverlap":false}},
    "y":{"field":"y","type":"quantitative","scale":{"domain":[0,1],"nice":false},"axis":{"tickCount":5,"labelExpr":"datum.value==0?'0':datum.value==1?'1':format(datum.value,'.1f')","title":"Amplitude","titlePadding":-2,"labelOverlap":false}},
    "color":{"field":"s","type":"nominal","scale":{"domain":["O","95","9","85","8","75","7"],"range":["#000000","#c0c000","#ff0000","#00ffff","#0000ff","#008000","#ff00ff"]},
      "legend":{"legendX":49,"legendY":1,"labelExpr":"datum.label=='O'?'OFDM':'SEFDM (0.'+datum.label+')'"}},
    "strokeDash":{"field":"s","type":"nominal","scale":{"domain":["O","95","9","85","8","75","7"],"range":[[1,0],[4,2],[4,2],[4,2],[4,2],[4,2],[4,2]]},
      "legend":{"legendX":49,"legendY":1,"labelExpr":"datum.label=='O'?'OFDM':'SEFDM (0.'+datum.label+')'"}}
   }},
  {"data":{"values":[{"t":"(b)","x":4.2,"y":0.82}]},
   "mark":{"type":"text","fontWeight":"bold","fontSize":10,"align":"left","baseline":"middle"},
   "encoding":{"x":{"field":"x","type":"quantitative"},"y":{"field":"y","type":"quantitative"},"text":{"field":"t"}}}
 ]
}
],
"resolve":{"scale":{"color":"independent","strokeDash":"independent"},"legend":{"color":"independent","strokeDash":"independent"}}
}
